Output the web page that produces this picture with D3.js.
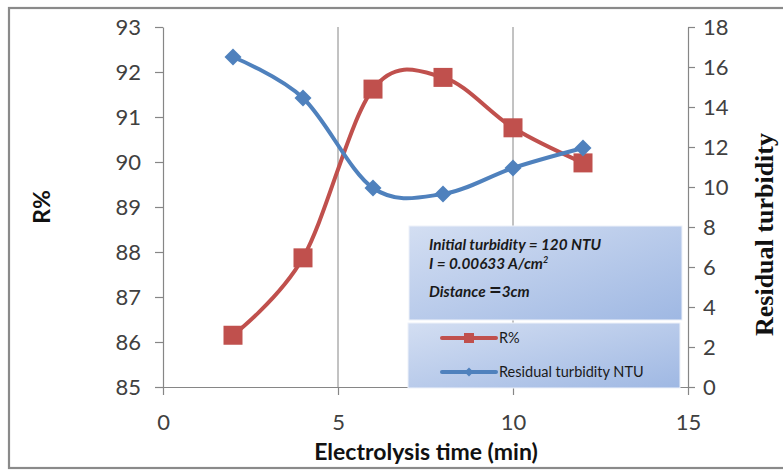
<!DOCTYPE html>
<html>
<head>
<meta charset="utf-8">
<script src="https://cdn.jsdelivr.net/npm/d3@7"></script>
<style>
  html, body { margin: 0; padding: 0; background: #fff; }
  svg { display: block; }
</style>
</head>
<body>
<svg id="chart" width="783" height="471"></svg>
<script>
// Electrolysis time (min)
const times = [2, 4, 6, 8, 10, 12];
// Removal efficiency R% (left axis)
const removal = [86.15, 87.87, 91.62, 91.88, 90.76, 89.98];
// Residual turbidity in NTU (right axis)
const residual = [16.5, 14.45, 9.95, 9.65, 10.95, 11.95];

const xTicks = [0, 5, 10, 15];
const leftTicks = [85, 86, 87, 88, 89, 90, 91, 92, 93];
const rightTicks = [0, 2, 4, 6, 8, 10, 12, 14, 16, 18];

const svg = d3.select("#chart");
const plotLeft = 163, plotRight = 688, plotTop = 27, plotBottom = 387;
const axisColor = "#868686";
const labelColor = "#404040";
const red = "#C0504D", blue = "#4F81BD";

const x = d3.scaleLinear().domain([0, 15]).range([plotLeft, plotRight]);
const yL = d3.scaleLinear().domain([85, 93]).range([plotBottom, plotTop]);
const yR = d3.scaleLinear().domain([0, 18]).range([plotBottom, plotTop]);

// gradients for the note and legend panels
const defs = svg.append("defs");
const grad = defs.append("linearGradient").attr("id", "panel")
  .attr("x1", "0%").attr("y1", "0%").attr("x2", "100%").attr("y2", "100%");
grad.append("stop").attr("offset", "0%").attr("stop-color", "#d3def2");
grad.append("stop").attr("offset", "100%").attr("stop-color", "#9fb8e3");

// outer chart frame
svg.append("rect").attr("x", 9).attr("y", 8).attr("width", 800).attr("height", 460)
  .attr("fill", "#fff").attr("stroke", "#8a8a8a").attr("stroke-width", 2.2);

// vertical gridlines
svg.append("g").selectAll("line").data(xTicks.filter(d => d > 0 && d < 15)).join("line")
  .attr("x1", d => x(d)).attr("x2", d => x(d))
  .attr("y1", plotTop).attr("y2", plotBottom)
  .attr("stroke", axisColor).attr("stroke-width", 1);

function styleAxis(g, size) {
  g.select(".domain").attr("stroke", axisColor).attr("stroke-width", 1.2);
  g.selectAll(".tick line").attr("stroke", axisColor).attr("stroke-width", 1.2);
  g.selectAll(".tick text").attr("fill", labelColor)
    .attr("font-family", "Lato, 'Open Sans', sans-serif").attr("font-size", size);
}

// left axis
svg.append("g").attr("transform", `translate(${plotLeft},0)`)
  .call(d3.axisLeft(yL).tickValues(leftTicks).tickSize(8).tickSizeOuter(0).tickPadding(14))
  .call(g => styleAxis(g, 22));

// right axis
svg.append("g").attr("transform", `translate(${plotRight},0)`)
  .call(d3.axisRight(yR).tickValues(rightTicks).tickSize(7).tickSizeOuter(0).tickPadding(8))
  .call(g => styleAxis(g, 22));

// bottom axis
svg.append("g").attr("transform", `translate(0,${plotBottom})`)
  .call(d3.axisBottom(x).tickValues(xTicks).tickSize(8).tickSizeOuter(0).tickPadding(19))
  .call(g => styleAxis(g, 22));

// smoothed series lines
const lineL = d3.line().x((d, i) => x(times[i])).y(d => yL(d)).curve(d3.curveCardinal.tension(0));
const lineR = d3.line().x((d, i) => x(times[i])).y(d => yR(d)).curve(d3.curveCardinal.tension(0));

svg.append("path").datum(removal).attr("d", lineL)
  .attr("fill", "none").attr("stroke", red).attr("stroke-width", 4).attr("stroke-linecap", "round");
svg.append("g").selectAll("rect").data(removal).join("rect")
  .attr("x", (d, i) => x(times[i]) - 9.5).attr("y", d => yL(d) - 9.5)
  .attr("width", 19).attr("height", 19).attr("fill", red);

svg.append("path").datum(residual).attr("d", lineR)
  .attr("fill", "none").attr("stroke", blue).attr("stroke-width", 4).attr("stroke-linecap", "round");
const diamond = r => `M0,${-r}L${r},0L0,${r}L${-r},0Z`;
svg.append("g").selectAll("path").data(residual).join("path")
  .attr("transform", (d, i) => `translate(${x(times[i])},${yR(d)})`)
  .attr("d", diamond(8.5)).attr("fill", blue);

// axis titles
svg.append("text").attr("transform", "translate(50,207) rotate(-90)")
  .attr("text-anchor", "middle").attr("font-family", "Lato, sans-serif")
  .attr("font-weight", "bold").attr("font-size", 23).attr("fill", "#111").text("R%");

svg.append("text").attr("x", 426).attr("y", 460)
  .attr("text-anchor", "middle").attr("font-family", "Lato, sans-serif")
  .attr("font-weight", "bold").attr("font-size", 23).attr("fill", "#111")
  .text("Electrolysis time (min)");

const rt = svg.append("text").attr("transform", "translate(773,336) rotate(-90)")
  .attr("font-family", "'Liberation Serif', 'DejaVu Serif', serif")
  .attr("font-weight", "bold").attr("font-size", 26).attr("fill", "#111");
rt.append("tspan").attr("x", 0).attr("y", 0).text("Residual turbidity");
rt.append("tspan").attr("x", 0).attr("y", 28).text("NTU");

// note panel
svg.append("rect").attr("x", 409).attr("y", 226).attr("width", 273).attr("height", 94)
  .attr("fill", "url(#panel)").attr("stroke", "#eef2fa").attr("stroke-width", 1);
const note = svg.append("g").attr("font-family", "Lato, sans-serif")
  .attr("font-weight", "bold").attr("font-style", "italic").attr("font-size", 15.3).attr("fill", "#1a1a1a");
note.append("text").attr("x", 429).attr("y", 250).text("Initial turbidity = 120 NTU");
const l2 = note.append("text").attr("x", 429).attr("y", 269);
l2.append("tspan").text("I = 0.00633 A/cm");
l2.append("tspan").attr("font-size", 9).attr("dy", -6).text("2");
const l3 = note.append("text").attr("x", 429).attr("y", 297);
l3.append("tspan").text("Distance ");
l3.append("tspan").attr("font-size", 22).attr("font-style", "normal").attr("dy", 1).text("=");
l3.append("tspan").attr("dy", -1).text("3cm");

// legend panel
svg.append("rect").attr("x", 408).attr("y", 323).attr("width", 272).attr("height", 65)
  .attr("fill", "url(#panel)").attr("stroke", "#eef2fa").attr("stroke-width", 1);
const legendItems = [
  { label: "R%", color: red, shape: "square", y: 338 },
  { label: "Residual turbidity NTU", color: blue, shape: "diamond", y: 372 }
];
const lg = svg.append("g").selectAll("g").data(legendItems).join("g");
lg.append("line").attr("x1", 442).attr("x2", 496).attr("y1", d => d.y).attr("y2", d => d.y)
  .attr("stroke", d => d.color).attr("stroke-width", 4).attr("stroke-linecap", "round");
lg.append("path")
  .attr("transform", d => `translate(469,${d.y})`)
  .attr("d", d => d.shape === "square" ? "M-5,-5H5V5H-5Z" : diamond(4.5))
  .attr("fill", d => d.color);
lg.append("text").attr("x", 499).attr("y", d => d.y + 5)
  .attr("font-family", "Lato, sans-serif").attr("font-size", 14.5).attr("fill", "#1a1a1a")
  .text(d => d.label);
</script>
</body>
</html>
